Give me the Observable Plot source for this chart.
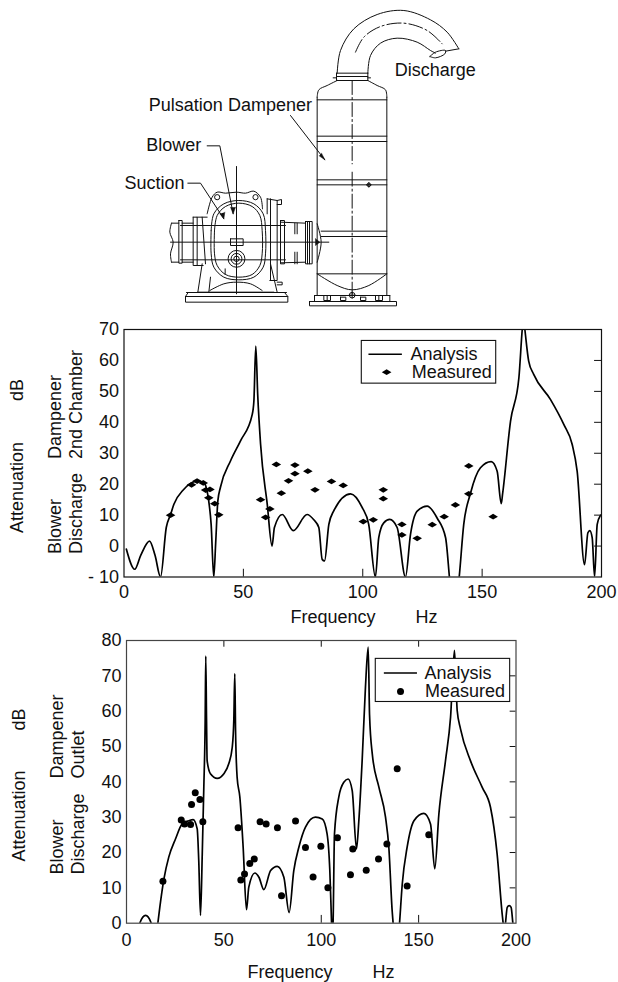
<!DOCTYPE html>
<html><head><meta charset="utf-8">
<script src="https://cdn.jsdelivr.net/npm/d3@7"></script>
<script src="https://cdn.jsdelivr.net/npm/@observablehq/plot@0.6"></script>
<style>
html,body{margin:0;padding:0;background:#fff;width:618px;height:982px;overflow:hidden}
#page{position:relative;width:618px;height:982px}
#page>svg{position:absolute;background:transparent}
</style></head><body><div id="page"></div>
<script>
const font = "'Liberation Sans', Arial, sans-serif";
const ink = "#111";

// Panel 1: Blower discharge to dampener 2nd chamber
const analysisHz1 = [1,4.5,7,10.7,13,15.3,17.7,19.5,20.9,25,30.6,33.4,35.5,36.5,37.6,38.4,39.3,40.4,44.6,48.8,53.7,54.4,55.2,56,57.2,60,62,63,66.3,70.9,76.7,79.5,81.6,83,84,85.8,87.8,94.9,99.8,102.5,105.3,106.7,108.8,111.3,114.4,117.9,120,122.8,127,131.2,134.7,136.3,138,140.4,142.3,145.1,149.3,153.8,156.3,158,158.6,161.9,165.4,166.8,167.3,167.9,169.5,171.6,178.6,184.2,187.7,189.8,192.9,194.3,195.1,196.1,197.1,198.2,199.6];
const analysisDb1 = [-1,-7.5,-3,1.6,-3,-10,6,10.2,13.5,18.3,21,20.5,14.5,7,-10,1,14.5,19,27.5,34,42.5,46.8,64.6,49,33,13.5,0,6,10.2,5,10.2,8.5,6,-4.3,-4.8,7,11.3,16.9,12.4,7,-10,2.7,7.5,8.6,6,-10,3.8,11.3,12.9,9,2.7,-10,-25,-10,7,17,25.3,27.3,24.2,13.7,17,40.4,54.4,70,74,70,59.8,55.5,47.4,39.3,32.9,24.2,-6,4.3,5,2.7,-10,7,10];
const measuredHz1 = [19.5,28.3,30.6,33.2,34.2,36,35.5,38,39.7,57.2,59.3,61.1,63.8,65.9,68.9,71.6,71.6,77,80,86.9,91.8,100.2,104.4,108.6,108.6,116.4,116.4,122.8,129.1,134.1,138.8,144.4,144.4,154.6];
const measuredDb1 = [10,19.8,21,20.4,18.1,18.3,15.6,13.7,10.1,15,9.3,12,26.4,17.1,21.1,26.2,23.4,24.2,18.2,20.9,19.6,7.9,8.5,18.2,15.3,7,3.6,2.5,6.9,9.5,13.3,25.9,16.9,9.5];
const yTicks1 = [-10,0,10,20,30,40,50,60,70];
const xTicks = [0,50,100,150,200];

// Panel 2: Blower discharge to dampener outlet
const analysisHz2 = [5,6.8,9.8,12.7,14.5,16.1,17.1,19.2,21.7,25.2,28.6,32,34.2,36.3,37.1,38,38.9,39.7,40.4,40.7,41.1,41.4,43.1,46.6,50,52.5,54.3,55.1,55.6,56,56.8,58.2,59.9,61.6,62.8,65.9,68,70.5,74,77.4,80.8,83.5,85.9,88.5,91.9,97,100.5,103,104.4,105.3,105.7,106.1,106.8,109,111.6,113.8,115.9,118.1,119.3,121,122.7,124.1,124.8,126.2,129.6,133,134.7,136.4,136.9,138.5,140.2,141.6,144.1,147.6,152.7,156.1,158.3,160.4,163.8,166.4,168.4,169.8,171.5,176.6,182.6,186.9,190.3,192.9,193.4,194,194.6,195.5,196.5,197.5,198.4,199.5];
const analysisDb2 = [-6,0,2.2,0,-6,0,4.5,12.5,18.7,23.9,28.1,29,29.3,26.7,17.7,2.2,19.6,38.5,57.4,75.6,57.4,46,42.3,41,42.3,45.1,49.8,57.4,70.6,54.5,41.3,35.7,21.5,3.8,10.2,14.2,13,9.5,14.9,16.1,13,3,14.9,21.5,27.2,30,29.5,25.3,14.9,0,-6,0.7,25.3,35.7,39.9,40.8,37.5,21,29,46,66.8,78.1,59,47.9,38.5,30,21.5,3.6,0,-12,0,11.1,21.5,29,31.1,28.1,15.4,30.9,46,58.3,77.2,60.2,55,46,38.5,32.8,19.6,2.6,0,-3,0,4.5,5,4.5,0,-4];
const measuredHz2 = [18.7,28.1,29.8,32.9,33.4,35.3,37.7,39.2,57.3,58.7,60.6,63.3,65.6,68.6,71.7,77.5,79.6,86.8,91.9,95.8,99.8,103.4,108.3,115,116.2,123.1,129.4,133.7,139,144.1,155.2];
const measuredDb2 = [11.9,29.2,28.1,27.9,33.6,36.9,35,28.7,27,12.2,13.9,16.9,18.2,28.7,28.1,27,7.8,28.9,21.4,13.1,21.8,10,24.2,13.7,21,15,18.2,22.4,43.7,10.5,25];
const yTicks2 = [0,10,20,30,40,50,60,70,80];

const legendLabels = ["Analysis", "Measured"];

// Schematic drawing, traced in its own drawing units
const straightParts = [
  [[620,290],[620,885]],[[829,290],[829,885]],
  [[620,298],[829,298]],[[620,407],[829,407]],[[620,423],[829,423]],[[620,538],[829,538]],[[620,553],[829,553]],
  [[632,692],[829,692]],[[632,708],[829,708]],[[620,820],[829,820]],
  [[678,218],[772,218]],[[678,228],[772,228]],[[678,240],[772,240]],[[678,218],[678,240]],[[772,218],[772,240]],[[668,232],[678,232]],[[772,232],[780,232]],
  [[612,885],[838,885]],[[612,885],[612,903]],[[838,885],[838,903]],
  [[597,903],[858,903],[858,916],[597,916],[597,903]],[[608,903],[846,903]],
  [[640,885],[660,885],[660,900],[640,900],[640,885]],[[650,885],[650,900]],
  [[690,890],[706,890],[706,900],[690,900],[690,890]],
  [[750,890],[766,890],[766,900],[750,900],[750,890]],
  [[795,885],[816,885],[816,900],[795,900],[795,885]],[[805,885],[805,900]],
  [[768,553],[782,553]],[[775,546],[775,560]],[[716,884],[734,884]],[[725,875],[725,893]],
  [[510,665],[585,668]],[[510,787],[585,785]],
  [[553,668],[553,700]],[[560,668],[560,700]],[[553,755],[553,790]],[[560,755],[560,790]],
  [[585,663],[605,663],[605,790],[585,790],[585,663]],[[591,663],[591,790]],[[597,663],[597,790]],
  [[180,725],[655,725]],[[210,675],[525,675]],[[210,778],[525,778]],
  [[183,668],[205,668]],[[183,785],[205,785]],
  [[205,660],[215,660],[215,788],[205,788],[205,660]],
  [[215,668],[248,668]],[[215,785],[248,785]],
  [[248,650],[260,650],[260,795],[248,795],[248,650]],[[260,650],[290,650]],[[275,650],[285,790]],[[260,795],[278,795]],
  [[510,660],[522,660],[522,790],[510,790],[510,660]],
  [[470,595],[500,600],[500,840],[478,840]],[[470,595],[470,640]],[[480,595],[480,840]],
  [[228,876],[528,876]],[[225,888],[532,888],[532,905],[225,905],[225,888]],[[233,876],[225,888]],[[522,876],[532,888]],
  [[262,875],[275,790]],[[295,875],[300,830]],[[262,875],[490,875]],[[500,875],[480,790]],
  [[360,715],[398,715],[398,735],[360,735],[360,715]],[[378,498],[378,880]],
  [[344,805],[344,822]],[[500,600],[513,597],[513,612],[500,612]],[[500,845],[515,845],[515,853],[500,853]],
  [[290,436],[328,436],[368,640]],[[232,548],[270,548],[340,655]],[[540,345],[643,478]]
];
const curvedParts = [
  [[620,290],[625,268],[650,255],[680,240]],[[829,290],[825,268],[800,255],[772,240]],
  [[620,820],[680,855],[725,868],[775,855],[829,820]],
  [[680,218],[690,150],[730,85],[800,42],[880,30],[960,58],[1010,95],[1045,145]],
  [[772,218],[780,165],[810,128],[860,113],[920,125],[960,150],[975,158]],
  [[958,168],[975,155],[1005,150],[1003,160],[975,172],[958,168]],
  [[1005,152],[1045,145]],
  [[620,670],[632,725],[620,785]],
  [[183,668],[178,695],[188,725],[180,760],[183,785]],
  [[302,690],[310,640],[340,610],[385,600],[430,610],[458,640],[465,690],[465,760],[458,800],[430,830],[385,838],[340,830],[310,800],[302,760],[302,690]],
  [[312,690],[320,645],[345,618],[385,608],[425,618],[448,645],[455,690],[455,760],[448,795],[425,822],[385,830],[345,822],[320,795],[312,760],[312,690]],
  [[290,640],[305,590],[320,575],[345,578],[378,575],[405,578],[430,572],[450,590],[456,625]],
  [[298,870],[340,850],[378,845],[420,850],[455,870]]
];
const centerParts = [
  [[735,155],[760,110],[810,78],[880,68],[950,90],[995,130]],
  [[725,240],[725,490]],[[725,515],[725,880]]
];
const arrowHeads = [[[633,458],[643,478],[626,466]],[[360,620],[368,640],[375,620]],[[328,640],[340,655],[343,635]],
                    [[615,715],[628,725],[615,735],[615,715]]];
const ringX = [320,435,378,378,378,775,725];
const ringY = [590,590,775,775,775,553,884];
const ringR = [2.6,2.6,2.7,5.4,8.4,1.8,2.8];
const diagramLabels = [["Discharge",853,210],["Pulsation Dampener",115,314],["Blower",107,435],["Suction",42,547]];

const rows = (parts) => parts.flatMap((p,i)=>p.map(([x,y])=>({x,y,i})));

function place(plot, left, top){ plot.style.left=left+"px"; plot.style.top=top+"px"; document.getElementById("page").append(plot); }

// schematic
place(Plot.plot({
  width:400,height:320,margin:0,
  style:{background:"transparent"},
  x:{domain:[0,1200],axis:null},y:{domain:[960,0],axis:null},
  r:{type:"identity"},
  marks:[
    Plot.line(rows(straightParts),{x:"x",y:"y",z:"i",stroke:ink,strokeWidth:1}),
    Plot.line(rows(curvedParts),{x:"x",y:"y",z:"i",stroke:ink,strokeWidth:1,curve:"catmull-rom"}),
    Plot.line(rows(centerParts),{x:"x",y:"y",z:"i",stroke:ink,strokeWidth:1,curve:"catmull-rom",strokeDasharray:"14 3 2 3"}),
    Plot.line(rows(arrowHeads),{x:"x",y:"y",z:"i",fill:ink,stroke:ink,strokeWidth:0.5}),
    Plot.dot(ringX,{x:d=>d,y:(d,i)=>ringY[i],r:(d,i)=>ringR[i],stroke:ink,strokeWidth:1,fill:"none"}),
    Plot.text(diagramLabels,{x:d=>d[1],y:d=>d[2],text:d=>d[0],textAnchor:"start",fontSize:18,fontFamily:font,fill:ink})
  ]
}),110,0);

const note=(t,px,py,opt={})=>({t,px,py,...opt});

function panel({hz,db,mHz,mDb,yDomain,yTicks,left,top,plotW,plotH,svgH,rightTick,bottomTick,bottomTicks,topTick,topTicks,legend,symbol,rVal,yFmt,notes,yPad,frameInk}){
  const mR=618-left-plotW;
  const frameNote = n => Plot.text([n.t],{
    frameAnchor:"top-left",dx:n.px-left,dy:n.py-top,text:d=>d,
    rotate:-90,textAnchor:"start",lineAnchor:"middle",fontSize:18,fontFamily:font,fill:ink});
  const plainNote = n => Plot.text([n.t],{
    frameAnchor:"top-left",dx:n.px-left,dy:n.py-top,text:d=>d,
    textAnchor:"start",lineAnchor:"middle",fontSize:18,fontFamily:font,fill:ink});
  const [y0,y1]=yDomain;
  return Plot.plot({
    width:618,height:svgH,marginLeft:left,marginRight:mR,marginTop:14,marginBottom:svgH-14-plotH,
    style:{background:"transparent",fontFamily:font,overflow:"visible"},
    x:{domain:[0,200]},y:{domain:yDomain},
    marks:[
      Plot.axisX({ticks:xTicks,tickSize:0,tickPadding:yPad,fontSize:18,fontFamily:font,label:null,color:ink}),
      Plot.axisY({ticks:yTicks,tickSize:0,tickPadding:5,fontSize:18,fontFamily:font,label:null,tickFormat:yFmt,color:ink}),
      Plot.line(hz.map((x,i)=>({x,y:db[i]})),{x:"x",y:"y",stroke:"#000",strokeWidth:1.7,curve:"monotone-x",clip:true}),
      Plot.dot(mHz.map((x,i)=>({x,y:mDb[i]})),{x:"x",y:"y",r:rVal,fill:"#000",stroke:"none",symbol}),
      Plot.ruleY(yTicks.filter(t=>t>y0&&t<y1),{y:d=>d,x1:200-rightTick,x2:200,stroke:ink,strokeWidth:1}),
      Plot.ruleX(bottomTicks,{x:d=>d,y1:y0,y2:y0+bottomTick,stroke:ink,strokeWidth:1}),
      Plot.ruleX(topTicks,{x:d=>d,y1:y1,y2:y1-topTick,stroke:ink,strokeWidth:1}),
      Plot.rect([legend],{x1:d=>d.x1,x2:d=>d.x2,y1:d=>d.y1,y2:d=>d.y2,fill:"#fff",stroke:ink,strokeWidth:1.1}),
      Plot.ruleY([legend],{y:d=>d.yA,x1:d=>d.lx1,x2:d=>d.lx2,stroke:"#000",strokeWidth:1.7}),
      Plot.dot([legend],{x:d=>d.mx,y:d=>d.yM,r:rVal,fill:"#000",stroke:"none",symbol}),
      Plot.text([legend],{x:d=>d.tA,y:d=>d.yA,text:()=>legendLabels[0],textAnchor:"start",fontSize:18,fontFamily:font,fill:ink}),
      Plot.text([legend],{x:d=>d.tM,y:d=>d.yM,text:()=>legendLabels[1],textAnchor:"start",fontSize:18,fontFamily:font,fill:ink}),
      Plot.frame({stroke:frameInk,strokeWidth:1.2}),
      ...notes.filter(n=>!n.plain).map(frameNote),
      ...notes.filter(n=>n.plain).map(plainNote)
    ]
  });
}

const wideDiamond={draw(c,size){const r=Math.sqrt(size/Math.PI);const w=r*1.2,h=r*0.72;c.moveTo(-w,0);c.lineTo(0,-h);c.lineTo(w,0);c.lineTo(0,h);c.closePath();}};

place(panel({
  hz:analysisHz1,db:analysisDb1,mHz:measuredHz1,mDb:measuredDb1,yDomain:[-10,70],yTicks:yTicks1,
  left:123.5,top:328.5,plotW:477.5,plotH:247.5,svgH:300,rightTick:2.9,bottomTick:2.5,bottomTicks:[50,100,150],topTick:0,topTicks:[],
  legend:{x1:99.6,x2:155.9,y1:66.3,y2:52.5,yA:62,yM:56.2,lx1:102.6,lx2:116.6,mx:110,tA:120,tM:120.5},
  symbol:wideDiamond,rVal:4,yFmt:d=>d<0?"- 10":d,yPad:8,frameInk:"#111",
  notes:[note("Attenuation",17,532),note("dB",17,400),note("Blower",55,553),note("Discharge",76,553),note("Dampener",55,458),note("2nd Chamber",76,458),
         note("Frequency",290,616,{plain:true}),note("Hz",415,616,{plain:true})]
}),0,314.5);

place(panel({
  hz:analysisHz2,db:analysisDb2,mHz:measuredHz2,mDb:measuredDb2,yDomain:[0,80],yTicks:yTicks2,
  left:126,top:640,plotW:389.5,plotH:282.7,svgH:340,rightTick:3,bottomTick:2.2,bottomTicks:[100,150],topTick:1.9,topTicks:[50,100,150],
  legend:{x1:128,x2:197,y1:74.8,y2:62.6,yA:70.8,yM:65.6,lx1:132.4,lx2:149.4,mx:140.7,tA:153,tM:153.3},
  symbol:"circle",rVal:3.5,yFmt:d=>d,yPad:10.5,frameInk:"#444",
  notes:[note("Attenuation",19,861),note("dB",19,730),note("Blower",57,874),note("Discharge",78,874),note("Dampener",57,778),note("Outlet",78,778),
         note("Frequency",247,971.7,{plain:true}),note("Hz",372,971.7,{plain:true})]
}),0,626);
</script></body></html>
